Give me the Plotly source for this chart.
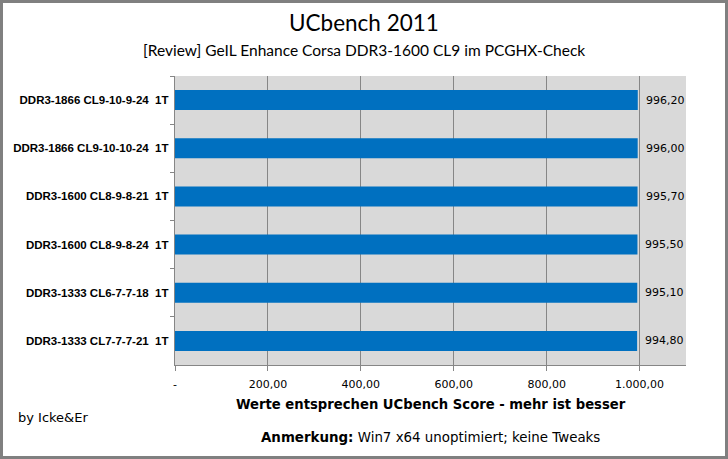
import plotly.graph_objects as go

# ---- data ----
categories = [
    "DDR3-1866 CL9-10-9-24\u00a0 1T",
    "DDR3-1866 CL9-10-10-24\u00a0 1T",
    "DDR3-1600 CL8-9-8-21\u00a0 1T",
    "DDR3-1600 CL8-9-8-24\u00a0 1T",
    "DDR3-1333 CL6-7-7-18\u00a0 1T",
    "DDR3-1333 CL7-7-7-21\u00a0 1T",
]
values = [996.20, 996.00, 995.70, 995.50, 995.10, 994.80]
value_labels = ["996,20", "996,00", "995,70", "995,50", "995,10", "994,80"]
tick_vals = [0, 200, 400, 600, 800, 1000]
tick_text = ["-", "200,00", "400,00", "600,00", "800,00", "1.000,00"]

W, H = 728, 459
L, R, T, B = 175, 686, 76, 365
PW, PH = R - L, B - T


def px(xp):
    return (xp - L) / PW


def py(yp):
    return (B - yp) / PH


GRID = "#868686"

fig = go.Figure()
fig.add_trace(go.Bar(
    x=values, y=categories, orientation="h",
    marker=dict(color="#0070C0", line=dict(width=0)),
    hoverinfo="skip",
))

annotations = []
for c, v, t in zip(categories, values, value_labels):
    annotations.append(dict(
        x=v, y=c, xref="x", yref="y", text=t, showarrow=False,
        xanchor="left", yanchor="middle", xshift=6,
        font=dict(family="DejaVu Sans", size=11, color="#000000"),
    ))

annotations += [
    dict(x=px(364), y=py(22), xref="paper", yref="paper", text="UCbench 2011",
         showarrow=False, xanchor="center", yanchor="middle",
         font=dict(family="Lato", size=22.5, color="#000000")),
    dict(x=px(364), y=py(50), xref="paper", yref="paper",
         text="[Review] GeIL Enhance Corsa DDR3-1600 CL9 im PCGHX-Check",
         showarrow=False, xanchor="center", yanchor="middle",
         font=dict(family="Lato", size=15.5, color="#000000")),
    dict(x=px(431), y=py(404), xref="paper", yref="paper",
         text="<b>Werte entsprechen UCbench Score - mehr ist besser</b>",
         showarrow=False, xanchor="center", yanchor="middle",
         font=dict(family="DejaVu Sans", size=13.2, color="#000000")),
    dict(x=px(430), y=py(437), xref="paper", yref="paper",
         text="<b>Anmerkung:</b> Win7 x64 unoptimiert; keine Tweaks",
         showarrow=False, xanchor="center", yanchor="middle",
         font=dict(family="DejaVu Sans", size=13.4, color="#000000")),
    dict(x=px(16), y=py(417), xref="paper", yref="paper", text="by Icke&amp;Er",
         showarrow=False, xanchor="left", yanchor="middle",
         font=dict(family="DejaVu Sans", size=13, color="#000000")),
]

fig.update_layout(
    width=W, height=H,
    margin=dict(l=L, r=W - R, t=T, b=H - B, pad=0),
    paper_bgcolor="#FFFFFF",
    plot_bgcolor="#D9D9D9",
    showlegend=False,
    bargap=0.585,
    annotations=annotations,
    shapes=[dict(type="rect", xref="paper", yref="paper",
                 x0=px(1.5), x1=px(726.5), y0=py(457.5), y1=py(1.5),
                 line=dict(color="#808080", width=3), fillcolor="rgba(0,0,0,0)",
                 layer="above")],
    xaxis=dict(
        range=[0, 1100], tickvals=tick_vals, ticktext=tick_text,
        showgrid=True, gridcolor=GRID, gridwidth=1,
        showline=True, linecolor=GRID, linewidth=1,
        ticks="outside", ticklen=5, tickcolor=GRID, tickwidth=1,
        ticklabelstandoff=4,
        zeroline=False,
        tickfont=dict(family="DejaVu Sans", size=11, color="#000000"),
        fixedrange=True,
    ),
    yaxis=dict(
        categoryorder="array", categoryarray=categories, autorange="reversed",
        showgrid=False, showline=True, linecolor=GRID, linewidth=1,
        ticks="outside", ticklen=4, tickcolor=GRID, tickson="boundaries",
        ticksuffix="\u00a0",
        tickfont=dict(family="Liberation Sans", size=11.5, color="#000000",
                      weight="bold"),
        fixedrange=True,
    ),
)

fig.write_html("out.html")
